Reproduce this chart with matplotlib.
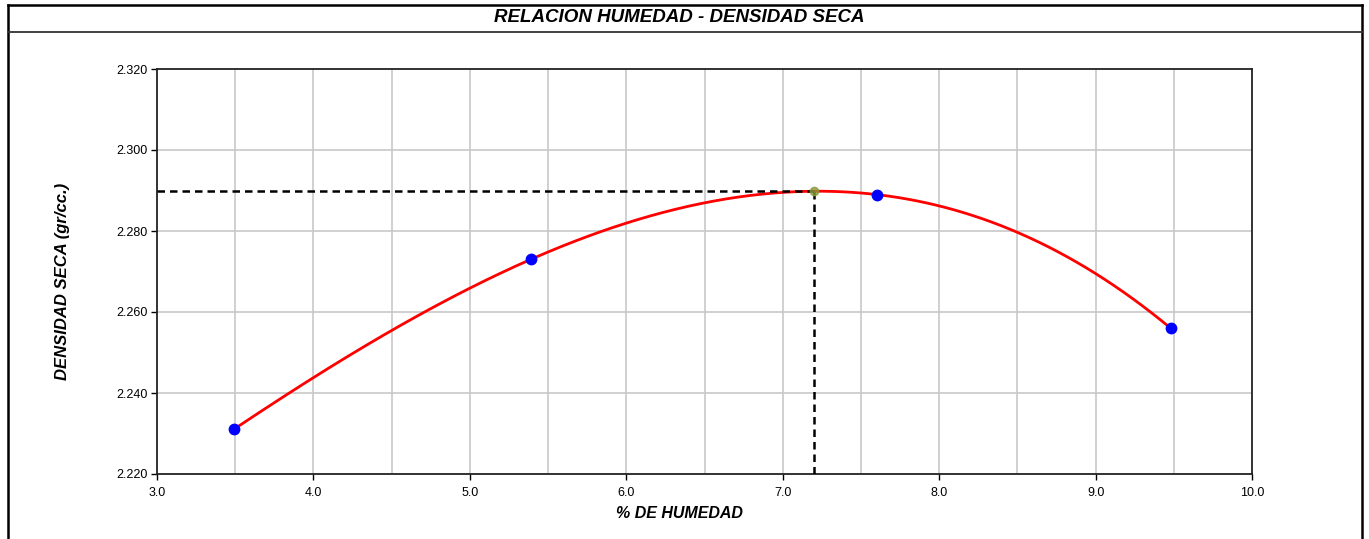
import numpy as np
import matplotlib
matplotlib.use("Agg")
import matplotlib.pyplot as plt
from matplotlib.lines import Line2D

plt.rcParams['font.family'] = ['Liberation Sans', 'DejaVu Sans']

# Data
humedad = [3.49, 5.39, 7.60, 9.48]
densidad = [2.231, 2.273, 2.289, 2.256]
opt_humedad = 7.20
opt_densidad = 2.290
x_ticks = [3.0, 4.0, 5.0, 6.0, 7.0, 8.0, 9.0, 10.0]
y_ticks = [2.220, 2.240, 2.260, 2.280, 2.300, 2.320]

W, H = 1369, 539
fig = plt.figure(figsize=(W/100, H/100), dpi=100)
ax = fig.add_axes([157/W, 1-474/H, (1252-157)/W, (474-69)/H])

# Grid
for xv in np.arange(3.5, 10.0, 0.5):
    ax.axvline(xv, color='#c8c8c8', lw=1.2, zorder=0)
for yv in y_ticks[1:-1]:
    ax.axhline(yv, color='#c8c8c8', lw=1.2, zorder=0)

# Fitted curve through points
coef = np.polyfit(humedad, densidad, 3)
xs = np.linspace(min(humedad), max(humedad), 300)
ax.plot(xs, np.polyval(coef, xs), color='#ff0000', lw=2.0, zorder=3)

# Dashed optimum lines
ax.plot([3.0, opt_humedad], [opt_densidad, opt_densidad], color='black', lw=1.8, ls=(0, (3, 2)), zorder=4)
ax.plot([opt_humedad, opt_humedad], [2.220, opt_densidad], color='black', lw=1.8, ls=(0, (3, 2)), zorder=4)
ax.plot([opt_humedad], [opt_densidad], 'o', color='#8a9a3a', ms=6, zorder=5, alpha=0.8)

# Points
ax.plot(humedad, densidad, 'o', color='#0000ff', ms=8.5, zorder=6, markeredgewidth=0)

ax.set_xlim(3.0, 10.0)
ax.set_ylim(2.220, 2.320)
ax.set_xticks(x_ticks)
ax.set_xticklabels([f"{v:.1f}" for v in x_ticks])
ax.set_yticks(y_ticks)
ax.set_yticklabels([f"{v:.3f}" for v in y_ticks])
ax.tick_params(axis='both', direction='out', length=4, width=1, labelsize=9, pad=3)
ax.tick_params(axis='x', pad=5)
for s in ax.spines.values():
    s.set_linewidth(1.3)
    s.set_color('#222222')

fig.text(679/W, 1-514/H, '% DE HUMEDAD', ha='center', va='center',
         fontsize=11.5, fontweight='bold', fontstyle='italic')
fig.text(63/W, 1-281/H, 'DENSIDAD SECA (gr/cc.)', ha='center', va='center', rotation=90,
         fontsize=12, fontweight='bold', fontstyle='italic')

# Title and frame
fig.text(679/W, 1-17/H, 'RELACION HUMEDAD - DENSIDAD SECA', ha='center', va='center',
         fontsize=13.5, fontweight='bold', fontstyle='italic')
lw = 1.8
fig.add_artist(Line2D([8/W, 8/W], [0, 1-5/H], color='black', lw=lw))
fig.add_artist(Line2D([1362/W, 1362/W], [0, 1-5/H], color='black', lw=lw))
fig.add_artist(Line2D([8/W, 1362/W], [1-5/H, 1-5/H], color='black', lw=lw))
fig.add_artist(Line2D([8/W, 1362/W], [1-32/H, 1-32/H], color='#333333', lw=1.3))

fig.savefig('out.png', dpi=100)
